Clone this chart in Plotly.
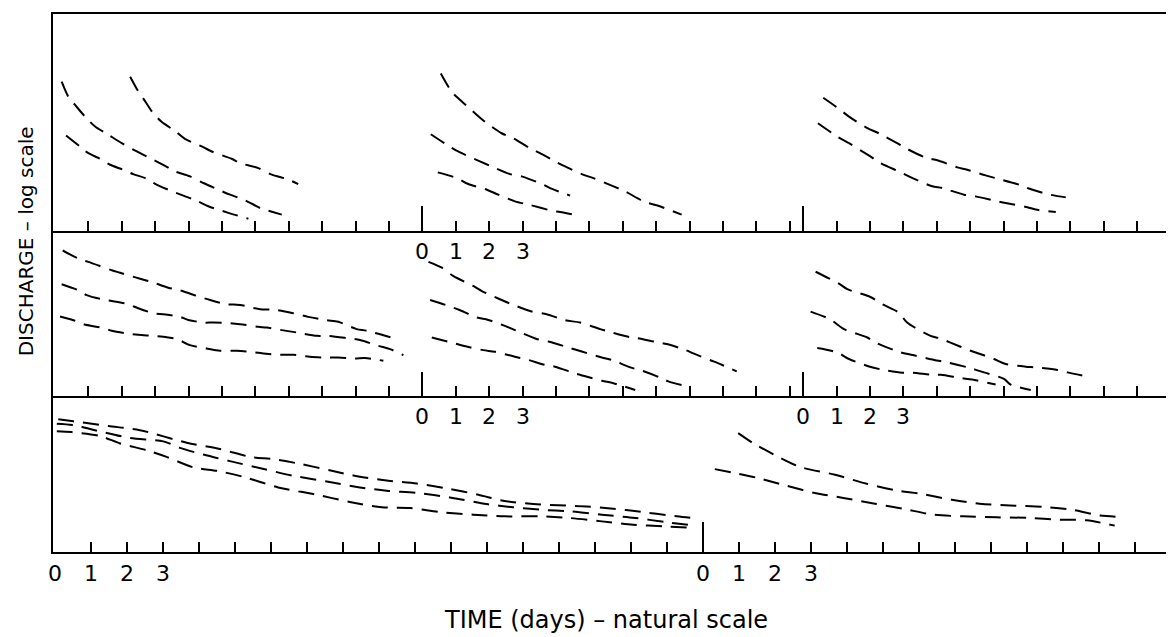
import plotly.graph_objects as go

# ---------------- data ----------------
# time origins (days) of the recession segments along each panel's time axis
P1_ORIGINS = [0.0, 11.0, 22.4]
P2_ORIGINS = [0.0, 11.0, 22.4]
P3_ORIGINS = [0.0, 18.0]
# number of one-day ticks drawn after each origin
P1_TICKS = [10, 11, 10]
P2_TICKS = [10, 11, 10]
P3_TICKS = [17, 12]
# segments whose first days are numbered
P1_LABELLED = [1]
P2_LABELLED = [1, 2]
P3_LABELLED = [0, 1]
DAY_LABELS = ["0", "1", "2", "3"]

# Panel 1 — left segment
p1a_t = [0.20, 0.40, 0.60, 0.90, 1.20, 1.60, 2.00, 2.45, 2.75, 3.24, 3.59, 4.04, 4.44, 4.89, 5.24, 5.69, 6.14, 6.79]
p1a_q = [31.3, 22.1, 18.3, 13.96, 11.1, 9.16, 7.55, 6.24, 5.56, 4.59, 3.94, 3.51, 3.01, 2.58, 2.30, 2.02, 1.69, 1.45]
p1b_t = [0.33, 0.75, 1.00, 1.35, 1.65, 2.04, 2.34, 2.75, 3.04, 3.39, 3.84, 4.24, 4.59, 5.19, 5.79]
p1b_q = [9.02, 7.00, 6.00, 5.27, 4.59, 4.09, 3.70, 3.32, 2.90, 2.58, 2.25, 2.00, 1.76, 1.51, 1.32]
p1c_t = [2.25, 2.49, 2.64, 2.94, 3.19, 3.59, 3.89, 4.44, 4.69, 5.29, 5.54, 6.09, 6.49, 6.94, 7.28]
p1c_q = [35.1, 25.1, 21.3, 15.1, 12.4, 10.05, 8.36, 6.89, 6.24, 5.27, 4.77, 4.25, 3.65, 3.30, 2.94]
# Panel 1 — middle segment
p1d_t = [0.55, 0.88, 1.13, 1.63, 1.87, 2.37, 2.72, 3.22, 3.52, 3.97, 4.27, 4.77, 5.12, 5.72, 6.07, 6.66, 7.01, 7.76]
p1d_q = [37.8, 24.7, 20.5, 14.5, 12.4, 9.51, 8.47, 6.73, 6.00, 4.97, 4.42, 3.70, 3.37, 2.79, 2.48, 1.94, 1.80, 1.45]
p1e_t = [0.25, 0.81, 1.07, 1.72, 2.07, 2.62, 2.97, 3.62, 3.82, 4.42]
p1e_q = [9.29, 7.00, 6.24, 4.97, 4.42, 3.70, 3.51, 2.90, 2.68, 2.25]
p1f_t = [0.46, 1.03, 1.37, 1.93, 2.27, 2.77, 3.17, 3.87, 4.12, 4.67]
p1f_q = [3.85, 3.37, 2.94, 2.58, 2.30, 1.97, 1.83, 1.59, 1.54, 1.42]
# Panel 1 — right segment
p1g_t = [0.60, 1.07, 1.37, 1.92, 2.26, 2.81, 3.07, 3.66, 4.06, 4.61, 4.91, 5.46, 5.76, 6.46, 6.71, 7.31, 7.86]
p1g_q = [21.6, 16.7, 13.96, 10.7, 9.51, 7.55, 6.73, 5.43, 5.04, 4.32, 4.09, 3.59, 3.37, 2.90, 2.68, 2.33, 2.16]
p1h_t = [0.44, 1.02, 1.37, 2.01, 2.31, 2.91, 3.16, 3.86, 4.16, 4.81, 5.16, 5.81, 6.06, 6.71, 6.96, 7.56]
p1h_q = [11.98, 8.81, 7.55, 5.56, 4.77, 3.87, 3.51, 2.79, 2.68, 2.30, 2.21, 1.97, 1.90, 1.72, 1.63, 1.54]

# Panel 2 — left segment
p2i_t = [0.23, 0.75, 1.00, 1.70, 1.95, 2.60, 2.90, 3.39, 3.74, 4.34, 4.64, 5.14, 5.54, 6.14, 6.54, 7.13, 7.58, 8.13, 8.48, 9.03, 9.33, 10.13]
p2i_q = [28.6, 23.3, 22.0, 18.1, 17.1, 14.7, 13.8, 12.1, 11.4, 9.77, 9.12, 8.26, 8.13, 7.36, 7.29, 6.71, 6.17, 5.71, 5.50, 4.65, 4.47, 3.78]
p2j_t = [0.20, 0.70, 0.95, 1.40, 1.70, 2.19, 2.49, 2.99, 3.24, 3.74, 3.99, 4.44, 4.74, 5.24, 5.54, 6.09, 6.34, 6.79, 7.24, 7.84, 8.18, 8.73, 9.13, 9.68, 10.03, 10.43]
p2j_q = [13.1, 11.4, 10.2, 9.27, 8.91, 8.26, 7.53, 6.65, 6.56, 6.17, 5.75, 5.41, 5.41, 5.33, 5.21, 4.90, 4.82, 4.54, 4.30, 3.98, 3.98, 3.78, 3.61, 3.16, 2.93, 2.55]
p2k_t = [0.15, 0.55, 0.85, 1.45, 1.70, 2.15, 2.49, 2.94, 3.24, 3.64, 4.04, 4.54, 4.94, 5.44, 5.74, 6.24, 6.74, 7.13, 7.63, 8.13, 8.48, 8.98, 9.28, 9.83]
p2k_q = [6.21, 5.71, 5.21, 4.76, 4.47, 4.20, 4.07, 3.98, 3.89, 3.70, 3.21, 2.97, 2.82, 2.82, 2.77, 2.65, 2.57, 2.57, 2.45, 2.41, 2.41, 2.36, 2.38, 2.24]
# Panel 2 — middle segment
p2l_t = [0.18, 0.58, 0.93, 1.52, 1.78, 2.32, 2.67, 3.27, 3.72, 4.27, 4.72, 5.32, 5.67, 6.16, 6.42, 6.96, 7.31, 7.86, 8.11, 8.66, 8.96, 9.41]
p2l_q = [22.0, 19.2, 15.8, 12.6, 11.2, 9.27, 8.26, 6.97, 6.56, 5.71, 5.41, 4.65, 4.30, 3.89, 3.78, 3.47, 3.29, 2.88, 2.65, 2.24, 2.04, 1.75]
p2m_t = [0.23, 0.78, 1.13, 1.63, 1.97, 2.47, 2.82, 3.42, 3.77, 4.37, 4.77, 5.37, 5.67, 6.22, 6.57, 7.11, 7.36, 7.96]
p2m_q = [9.12, 7.94, 7.19, 6.07, 5.75, 5.01, 4.47, 3.70, 3.49, 3.04, 2.77, 2.41, 2.28, 1.92, 1.78, 1.52, 1.39, 1.23]
p2n_t = [0.28, 0.98, 1.22, 1.82, 2.17, 2.77, 3.17, 3.67, 3.97, 4.57, 4.82, 5.37, 5.72, 6.37]
p2n_q = [3.83, 3.33, 3.16, 2.86, 2.75, 2.45, 2.28, 2.03, 1.95, 1.67, 1.58, 1.41, 1.33, 1.14]
# Panel 2 — right segment
p2o_t = [0.37, 1.07, 1.32, 2.01, 2.37, 2.86, 3.11, 3.81, 4.06, 4.71, 5.01, 5.71, 6.06, 6.66, 6.96, 7.61, 7.91, 8.41]
p2o_q = [17.5, 13.3, 11.7, 9.77, 8.26, 6.81, 5.41, 3.98, 3.78, 3.09, 2.82, 2.33, 2.08, 1.95, 1.92, 1.81, 1.71, 1.58]
p2p_t = [0.22, 0.80, 1.22, 1.92, 2.17, 2.92, 3.37, 3.92, 4.32, 4.92, 5.41, 6.01, 6.21, 6.81]
p2p_q = [6.97, 5.84, 4.65, 3.83, 3.40, 2.71, 2.51, 2.28, 2.15, 1.92, 1.71, 1.47, 1.29, 1.14]
p2q_t = [0.42, 1.02, 1.37, 1.97, 2.37, 2.97, 3.27, 3.87, 4.12, 4.71, 5.06, 5.76]
p2q_q = [3.00, 2.71, 2.33, 1.96, 1.82, 1.70, 1.70, 1.62, 1.62, 1.50, 1.45, 1.29]

# Panel 3 — left segment
p3r_t = [0.09, 0.51, 1.48, 2.36, 3.66, 4.58, 5.42, 6.06, 6.76, 7.69, 8.43, 9.26, 10.05, 10.93, 11.76, 12.45, 13.29, 13.98, 14.77, 15.51, 16.16, 17.27, 17.87]
p3r_q = [21.5, 20.5, 18.4, 16.7, 12.5, 10.8, 9.02, 8.55, 7.73, 6.53, 5.73, 5.19, 4.87, 4.32, 3.76, 3.27, 3.03, 2.94, 2.87, 2.72, 2.56, 2.28, 2.16]
p3s_t = [0.05, 0.56, 1.11, 2.08, 3.01, 3.47, 4.12, 4.86, 5.74, 6.62, 7.55, 8.47, 9.21, 10.05, 10.97, 11.99, 12.73, 13.47, 14.31, 15.19, 16.11, 16.94, 17.73]
p3s_q = [19.4, 18.7, 16.7, 13.96, 12.9, 11.1, 9.51, 8.17, 6.89, 5.82, 5.11, 4.45, 4.12, 3.91, 3.53, 3.03, 2.81, 2.66, 2.56, 2.37, 2.20, 2.00, 1.85]
p3t_t = [0.05, 0.46, 1.25, 1.81, 2.55, 3.10, 3.84, 4.54, 5.28, 6.20, 7.22, 8.19, 9.08, 9.86, 10.69, 11.62, 12.50, 13.47, 14.26, 15.19, 16.06, 16.90, 17.73]
p3t_q = [16.3, 16.0, 14.6, 12.3, 10.5, 9.02, 7.08, 6.49, 5.62, 4.45, 3.79, 3.18, 2.81, 2.77, 2.52, 2.37, 2.28, 2.28, 2.20, 2.03, 1.88, 1.81, 1.75]
# Panel 3 — right segment
p3u_t = [0.98, 1.39, 2.08, 2.69, 3.67, 4.55, 5.38, 6.03, 6.91, 7.69, 8.67, 9.50, 10.24, 11.03, 11.63]
p3u_q = [15.6, 12.4, 9.08, 7.16, 5.96, 4.84, 4.15, 3.85, 3.35, 3.05, 2.92, 2.83, 2.66, 2.32, 2.25]
p3v_t = [0.33, 0.80, 1.54, 2.33, 3.11, 3.94, 4.78, 5.56, 6.40, 7.23, 8.16, 9.04, 9.92, 10.66, 11.44]
p3v_q = [6.79, 6.28, 5.52, 4.62, 3.91, 3.47, 3.05, 2.72, 2.37, 2.28, 2.23, 2.20, 2.11, 2.08, 1.84]

CURVES = [
    (1, 0, p1a_t, p1a_q), (1, 0, p1b_t, p1b_q), (1, 0, p1c_t, p1c_q),
    (1, 1, p1d_t, p1d_q), (1, 1, p1e_t, p1e_q), (1, 1, p1f_t, p1f_q),
    (1, 2, p1g_t, p1g_q), (1, 2, p1h_t, p1h_q),
    (2, 0, p2i_t, p2i_q), (2, 0, p2j_t, p2j_q), (2, 0, p2k_t, p2k_q),
    (2, 1, p2l_t, p2l_q), (2, 1, p2m_t, p2m_q), (2, 1, p2n_t, p2n_q),
    (2, 2, p2o_t, p2o_q), (2, 2, p2p_t, p2p_q), (2, 2, p2q_t, p2q_q),
    (3, 0, p3r_t, p3r_q), (3, 0, p3s_t, p3s_q), (3, 0, p3t_t, p3t_q),
    (3, 1, p3u_t, p3u_q), (3, 1, p3v_t, p3v_q),
]

ORIGINS = {1: P1_ORIGINS, 2: P2_ORIGINS, 3: P3_ORIGINS}
TICKS = {1: P1_TICKS, 2: P2_TICKS, 3: P3_TICKS}
LABELLED = {1: P1_LABELLED, 2: P2_LABELLED, 3: P3_LABELLED}

# ---------------- layout / style ----------------
# the page body adds an 8 px margin, so the figure is sized 8 px smaller
W, H = 1166, 629
M_L, M_R, M_T, M_B = 45, 6, 4, 85
DOMAINS = {1: [0.5972, 1.0], 2: [0.2907, 0.5972], 3: [0.0, 0.2907]}
Y_RANGE = {1: [0, 2.175], 2: [0, 1.655], 3: [0, 1.57]}
X_RANGE = {1: [-0.06, 33.32], 2: [-0.06, 33.32], 3: [-0.056, 30.92]}
LONG_TICK = {1: 25, 2: 24, 3: 30}
FONT = "DejaVu Sans"
INK = "black"

fig = go.Figure()

def sfx(p):
    return "" if p == 1 else str(p)

for panel, seg, t, q in CURVES:
    xs = [ORIGINS[panel][seg] + v for v in t]
    fig.add_trace(go.Scatter(
        x=xs, y=q, mode="lines",
        line=dict(color=INK, width=2, dash="16px,9px", shape="spline", smoothing=0.8),
        xaxis="x" + sfx(panel), yaxis="y" + sfx(panel),
        showlegend=False, hoverinfo="skip",
    ))

annotations = []
for p in (1, 2, 3):
    s = sfx(p)
    origins = ORIGINS[p]
    minor_vals = [o + k for o, n in zip(origins, TICKS[p]) for k in range(1, n + 1)]
    fig.layout["xaxis" + s] = dict(
        domain=[0, 1], range=X_RANGE[p], anchor="y" + s,
        showgrid=False, zeroline=False, showline=True, linewidth=2, linecolor=INK,
        mirror=(p == 1),
        ticks="inside", tickmode="array", tickvals=origins[1:], ticklen=LONG_TICK[p],
        tickwidth=1.6, tickcolor=INK, showticklabels=False,
        minor=dict(tickmode="array", tickvals=minor_vals, ticks="inside", ticklen=10,
                   tickwidth=1.6, tickcolor=INK, showgrid=False),
        fixedrange=True,
    )
    fig.layout["yaxis" + s] = dict(
        domain=DOMAINS[p], type="log", range=Y_RANGE[p], anchor="x" + s,
        showgrid=False, zeroline=False, showline=True, linewidth=2, linecolor=INK, mirror=True,
        ticks="", showticklabels=False, fixedrange=True,
    )
    for seg in LABELLED[p]:
        for k, lab in enumerate(DAY_LABELS):
            annotations.append(dict(
                x=origins[seg] + k, xref="x" + s, y=0, yref="y" + s + " domain",
                yanchor="middle", yshift=-21, text=lab, showarrow=False,
                font=dict(family=FONT, size=22, color=INK),
            ))

annotations.append(dict(
    text="TIME (days) \u2013 natural scale", xref="paper", yref="paper",
    x=0.496, y=-0.126, xanchor="center", yanchor="middle", showarrow=False,
    font=dict(family=FONT, size=24, color=INK),
))
annotations.append(dict(
    text="DISCHARGE \u2013 log scale", xref="paper", yref="paper",
    x=-0.024, y=0.578, xanchor="center", yanchor="middle", textangle=-90, showarrow=False,
    font=dict(family=FONT, size=20, color=INK),
))

fig.update_layout(
    width=W, height=H, margin=dict(l=M_L, r=M_R, t=M_T, b=M_B),
    paper_bgcolor="white", plot_bgcolor="white",
    annotations=annotations, showlegend=False,
)

fig.write_html("out.html")
